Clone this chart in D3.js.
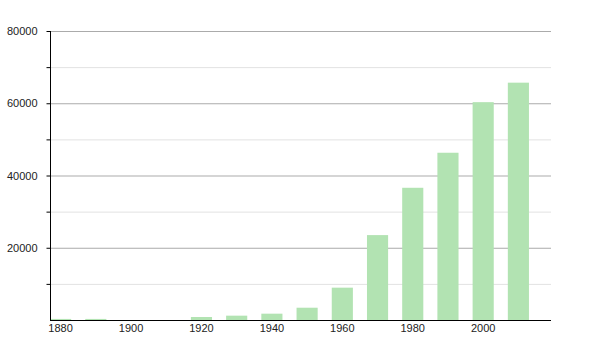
<!DOCTYPE html>
<html>
<head>
<meta charset="utf-8">
<script src="https://cdn.jsdelivr.net/npm/d3@7"></script>
<style>
  body { margin: 0; background: #fff; }
  svg text { font-family: "Liberation Sans", Arial, sans-serif; font-size: 11px; fill: #222; }
</style>
</head>
<body>
<svg id="chart" width="600" height="350"></svg>
<script>
// decades and population values (null = no data)
const years = [1880, 1890, 1900, 1910, 1920, 1930, 1940, 1950, 1960, 1970, 1980, 1990, 2000, 2010];
const values = [300, 300, null, null, 830, 1200, 1750, 3400, 8950, 23500, 36600, 46300, 60300, 65700];
const yTicks = [0, 20000, 40000, 60000, 80000];
const yMinor = [10000, 30000, 50000, 70000];
const xLabels = [1880, 1900, 1920, 1940, 1960, 1980, 2000];

const svg = d3.select("#chart");
const plotLeft = 50, plotRight = 551, plotTop = 31, plotBottom = 320;

const x = d3.scaleBand().domain(years).range([43, 536]).paddingInner(0.4).paddingOuter(0.2);
const y = d3.scaleLinear().domain([0, 80000]).range([plotBottom, plotTop]);

// grid
svg.append("g").selectAll("line")
    .data(yMinor)
    .join("line")
    .attr("x1", plotLeft).attr("x2", plotRight)
    .attr("y1", d => y(d) + 0.5).attr("y2", d => y(d) + 0.5)
    .attr("stroke", "#e2e2e2");

svg.append("g").selectAll("line")
    .data(yTicks.filter(d => d > 0))
    .join("line")
    .attr("x1", plotLeft).attr("x2", plotRight)
    .attr("y1", d => y(d) + 0.5).attr("y2", d => y(d) + 0.5)
    .attr("stroke", "#ababab");

// bars
const data = years.map((yr, i) => ({ year: yr, value: values[i] })).filter(d => d.value != null);
svg.append("g").selectAll("rect")
    .data(data)
    .join("rect")
    .attr("x", d => x(d.year))
    .attr("width", x.bandwidth())
    .attr("y", d => y(d.value))
    .attr("height", d => y(0) - y(d.value))
    .attr("fill", "#b2e3b2");

// y axis
const yAxis = svg.append("g")
    .attr("transform", `translate(${plotLeft + 0.5},0)`)
    .call(d3.axisLeft(y).tickValues(yTicks.filter(d => d > 0).concat(yMinor)).tickSize(4).tickFormat(d => yMinor.includes(d) ? "" : d));
yAxis.select(".domain").attr("d", `M0,${plotTop}V${plotBottom}`).attr("stroke", "#000");
yAxis.selectAll(".tick line").attr("stroke", "#000");
yAxis.selectAll(".tick text").attr("x", -13).style("font-size", "11px").attr("font-family", null);

// x axis
svg.append("line")
    .attr("x1", plotLeft).attr("x2", plotRight)
    .attr("y1", plotBottom + 0.5).attr("y2", plotBottom + 0.5)
    .attr("stroke", "#000");

svg.append("g").selectAll("text")
    .data(xLabels)
    .join("text")
    .attr("x", d => x(d) + x.bandwidth() / 2)
    .attr("y", plotBottom + 12)
    .attr("text-anchor", "middle")
    .text(d => d);
</script>
</body>
</html>
